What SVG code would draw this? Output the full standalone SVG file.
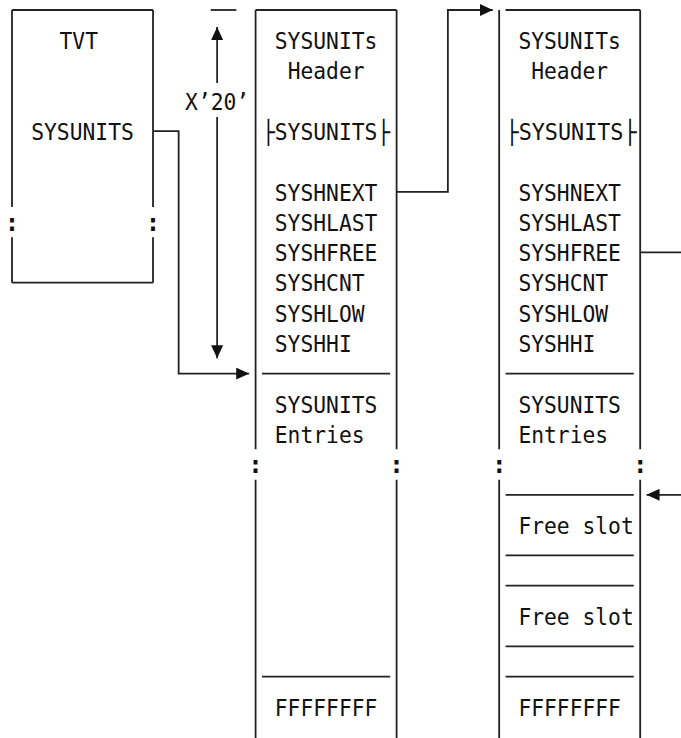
<svg xmlns="http://www.w3.org/2000/svg" width="681" height="738" viewBox="0 0 681 738">
<style>
  .ln{fill:none;stroke:#222;stroke-width:1.8;stroke-linecap:butt}
  .t{font-family:"DejaVu Sans Mono","Liberation Mono",monospace;font-size:23px;fill:#111}
  .c{font-family:"DejaVu Sans Mono","Liberation Mono",monospace;font-size:24px;font-weight:bold;fill:#111;text-anchor:middle}
</style>
<defs>
  <marker id="ah" markerUnits="userSpaceOnUse" markerWidth="13" markerHeight="12" refX="13" refY="6" orient="auto" viewBox="0 0 13 12">
    <path d="M0,0 L13,6 L0,12 Z" fill="#111"/>
  </marker>
</defs>
<rect width="681" height="738" fill="#fff"/>

<g id="tvt">
  <path class="ln" d="M12,10 H153.02 M12,282.7 H153.02 M12,10 V207 M12,237.2 V282.7 M153.02,10 V207 M153.02,237.2 V282.7"/>
  <text class="t" x="59.5" y="49" textLength="38.46" lengthAdjust="spacingAndGlyphs">TVT</text>
  <text class="t" x="31.23" y="139.9" textLength="102.56" lengthAdjust="spacingAndGlyphs">SYSUNITS</text>
  <text class="c" x="12" y="230.8">:</text>
  <text class="c" x="153.02" y="230.8">:</text>
</g>

<g id="offset-dimension">
  <path class="ln" d="M210.7,10 H236.3"/>
  <text class="t" x="185.07" y="109.6" textLength="64.1" lengthAdjust="spacingAndGlyphs">X’20’</text>
</g>

<g id="sysunits-table-1">
  <path class="ln" d="M255.58,10 H396.6 M255.58,10 V449.3 M255.58,479.7 V738 M396.6,10 V449.3 M396.6,479.7 V738 M261.99,373.6 H390.19 M261.99,676.6 H390.19"/>
  <text class="t" x="274.81" y="49" textLength="102.56" lengthAdjust="spacingAndGlyphs">SYSUNITs</text>
  <text class="t" x="287.63" y="79.3" textLength="76.92" lengthAdjust="spacingAndGlyphs">Header</text>
  <text class="t" x="261.99" y="139.9" textLength="128.2" lengthAdjust="spacingAndGlyphs">├SYSUNITS├</text>
  <text class="t" x="274.81" y="200.5" textLength="102.56" lengthAdjust="spacingAndGlyphs">SYSHNEXT</text>
  <text class="t" x="274.81" y="230.8" textLength="102.56" lengthAdjust="spacingAndGlyphs">SYSHLAST</text>
  <text class="t" x="274.81" y="261.1" textLength="102.56" lengthAdjust="spacingAndGlyphs">SYSHFREE</text>
  <text class="t" x="274.81" y="291.4" textLength="89.74" lengthAdjust="spacingAndGlyphs">SYSHCNT</text>
  <text class="t" x="274.81" y="321.7" textLength="89.74" lengthAdjust="spacingAndGlyphs">SYSHLOW</text>
  <text class="t" x="274.81" y="352" textLength="76.92" lengthAdjust="spacingAndGlyphs">SYSHHI</text>
  <text class="t" x="274.81" y="412.6" textLength="102.56" lengthAdjust="spacingAndGlyphs">SYSUNITS</text>
  <text class="t" x="274.81" y="442.9" textLength="89.74" lengthAdjust="spacingAndGlyphs">Entries</text>
  <text class="c" x="255.58" y="473.2">:</text>
  <text class="c" x="396.6" y="473.2">:</text>
  <text class="t" x="274.81" y="715.6" textLength="102.56" lengthAdjust="spacingAndGlyphs">FFFFFFFF</text>
</g>

<g id="sysunits-table-2">
  <path class="ln" d="M505.57,10 H640.18 M499.16,10 V449.3 M499.16,479.7 V738 M640.18,10 V449.3 M640.18,479.7 V738 M505.57,373.6 H633.77 M505.57,494.8 H633.77 M505.57,555.4 H633.77 M505.57,585.7 H633.77 M505.57,646.3 H633.77 M505.57,676.6 H633.77"/>
  <text class="t" x="518.39" y="49" textLength="102.56" lengthAdjust="spacingAndGlyphs">SYSUNITs</text>
  <text class="t" x="531.21" y="79.3" textLength="76.92" lengthAdjust="spacingAndGlyphs">Header</text>
  <text class="t" x="505.57" y="139.9" textLength="131" lengthAdjust="spacingAndGlyphs">├SYSUNITS├</text>
  <text class="t" x="518.39" y="200.5" textLength="102.56" lengthAdjust="spacingAndGlyphs">SYSHNEXT</text>
  <text class="t" x="518.39" y="230.8" textLength="102.56" lengthAdjust="spacingAndGlyphs">SYSHLAST</text>
  <text class="t" x="518.39" y="261.1" textLength="102.56" lengthAdjust="spacingAndGlyphs">SYSHFREE</text>
  <text class="t" x="518.39" y="291.4" textLength="89.74" lengthAdjust="spacingAndGlyphs">SYSHCNT</text>
  <text class="t" x="518.39" y="321.7" textLength="89.74" lengthAdjust="spacingAndGlyphs">SYSHLOW</text>
  <text class="t" x="518.39" y="352" textLength="76.92" lengthAdjust="spacingAndGlyphs">SYSHHI</text>
  <text class="t" x="518.39" y="412.6" textLength="102.56" lengthAdjust="spacingAndGlyphs">SYSUNITS</text>
  <text class="t" x="518.39" y="442.9" textLength="89.74" lengthAdjust="spacingAndGlyphs">Entries</text>
  <text class="c" x="499.16" y="473.2">:</text>
  <text class="c" x="640.18" y="473.2">:</text>
  <text class="t" x="518.39" y="533.8" textLength="115.38" lengthAdjust="spacingAndGlyphs">Free slot</text>
  <text class="t" x="518.39" y="624.7" textLength="115.38" lengthAdjust="spacingAndGlyphs">Free slot</text>
  <text class="t" x="518.39" y="715.6" textLength="102.56" lengthAdjust="spacingAndGlyphs">FFFFFFFF</text>
</g>

<g id="connectors">
  <path class="ln" d="M217.12,83 V27" marker-end="url(#ah)"/>
  <path class="ln" d="M217.12,117 V358.3" marker-end="url(#ah)"/>
  <path class="ln" d="M153.02,131.2 H178.66 V373.6 H249.17" marker-end="url(#ah)"/>
  <path class="ln" d="M396.6,191.8 H447.88 V10 H492.75" marker-end="url(#ah)"/>
  <path class="ln" d="M640.18,252.4 H681"/>
  <path class="ln" d="M681,494.8 H646.59" marker-end="url(#ah)"/>
</g>
</svg>
